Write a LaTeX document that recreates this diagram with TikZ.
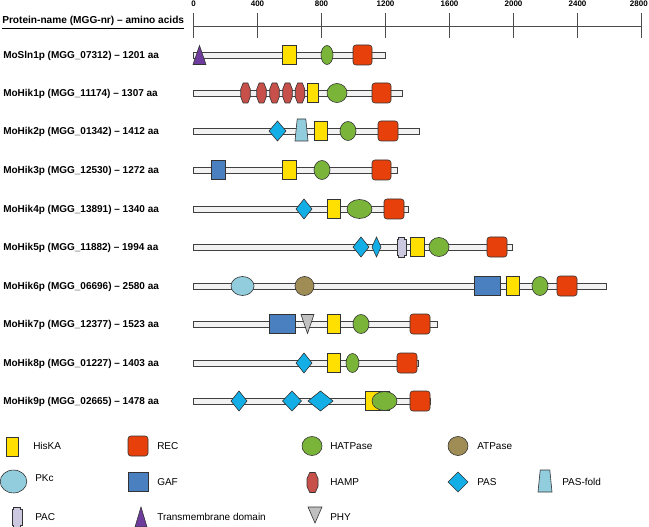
\documentclass[tikz,border=0pt]{standalone}
\usepackage{fontspec}
\setmainfont{Liberation Sans}
\definecolor{hiskac}{HTML}{FFE000}
\definecolor{recc}{HTML}{E8400A}
\definecolor{hatc}{HTML}{7AB53A}
\definecolor{atpc}{HTML}{A08C55}
\definecolor{pkcc}{HTML}{92CDDD}
\definecolor{gafc}{HTML}{4A80C0}
\definecolor{hampc}{HTML}{C8504A}
\definecolor{pasc}{HTML}{14AEE6}
\definecolor{pacc}{HTML}{CCC8E0}
\definecolor{tmc}{HTML}{6E3C9C}
\definecolor{phyc}{HTML}{C0C0C0}
\definecolor{barc}{HTML}{F2F2F2}
\tikzset{
  dom/.style={draw=black!80, line width=0.45pt},
  hiskas/.style={dom, fill=hiskac},
  recs/.style={dom, fill=recc, rounded corners=2.2pt},
  hats/.style={dom, fill=hatc},
  atps/.style={dom, fill=atpc},
  pkcs/.style={dom, fill=pkcc},
  gafs/.style={dom, fill=gafc},
  hamps/.style={dom, fill=hampc},
  pass/.style={dom, fill=pasc},
  pasfs/.style={dom, fill=pkcc},
  pacs/.style={dom, fill=pacc},
  tms/.style={dom, fill=tmc},
  phys/.style={dom, fill=phyc},
  barstyle/.style={draw=black!75, line width=0.5pt, fill=barc},
  rowlab/.style={anchor=base west, inner sep=0pt, font=\bfseries\fontsize{7.5}{9}\selectfont},
  ticklab/.style={inner sep=0pt, font=\bfseries\fontsize{6}{7}\selectfont},
  leglab/.style={anchor=base west, inner sep=0pt, font=\fontsize{7.5}{9}\selectfont},
  axisline/.style={draw=black!70, line width=0.6pt}
}
% domain drawing commands: style, x1, x2, y
\newcommand{\dRect}[4]{\draw[#1] (#2,#4-9.5) rectangle (#3,#4+9.5);}
\newcommand{\dRec}[3]{\draw[recs] (#1,#3-10) rectangle (#2,#3+10);}
\newcommand{\dEll}[4]{\draw[#1] ({(#2+#3)/2},#4) ellipse [x radius={0.375pt*(#3-#2)}, y radius=7.125pt];}
% diamond: cx, w, y
\newcommand{\dDia}[3]{\draw[pass] ({#1-#2/2},#3) -- (#1,#3-10) -- ({#1+#2/2},#3) -- (#1,#3+10) -- cycle;}
% HAMP: cx, w, y
\newcommand{\dHamp}[3]{\draw[hamps] ({#1-#2/4},#3-10) -- ({#1+#2/4},#3-10) -- ({#1+#2/2},#3-4) -- ({#1+#2/2},#3+4) -- ({#1+#2/4},#3+10) -- ({#1-#2/4},#3+10) -- ({#1-#2/2},#3+4) -- ({#1-#2/2},#3-4) -- cycle;}
% PAS-fold: x1, x2, y
\newcommand{\dPasf}[3]{\draw[pasfs] ({#1+2.2},#3-12) -- ({#2-2.2},#3-12) -- (#2,#3+10) -- (#1,#3+10) -- cycle;}
% PAC: x1, x2, y
\newcommand{\dPac}[3]{\draw[pacs] ({#1+1.6},#3-10) -- ({#2-1.6},#3-10) -- ({#2-1.6},#3-8) -- (#2,#3-8) -- (#2,#3+8) -- ({#2-1.6},#3+8) -- ({#2-1.6},#3+10) -- ({#1+1.6},#3+10) -- ({#1+1.6},#3+8) -- (#1,#3+8) -- (#1,#3-8) -- ({#1+1.6},#3-8) -- cycle;}
% TM triangle: x1, x2, y
\newcommand{\dTm}[3]{\draw[tms] (#1,#3+9.5) -- ({(#1+#2)/2},#3-9.5) -- (#2,#3+9.5) -- cycle;}
% PHY inverted triangle: x1, x2, y
\newcommand{\dPhy}[3]{\draw[phys] (#1,#3-9.5) -- (#2,#3-9.5) -- ({(#1+#2)/2},#3+9.5) -- cycle;}
% bar: end, y
\newcommand{\dBar}[2]{\draw[barstyle] (193.5,#2-3) rectangle (#1,#2+3);}
\begin{document}
\begin{tikzpicture}[x=0.75pt, y=-0.75pt]
\useasboundingbox (0,0) rectangle (649,527);
% header
\node[anchor=base west, inner sep=0pt, font=\bfseries\fontsize{7.6}{9}\selectfont] (hdr) at (2,24) {\underline{Protein-name (MGG-nr) – amino acids}};
\coordinate (axs) at (193.5,26);
\coordinate (axe) at (641.5,26);
\draw[axisline] (axs) -- (axe);
\foreach \v [count=\i from 0] in {0,400,800,1200,1600,2000,2400,2800} {
  \draw[axisline] ({193.5+0.16*\v},13) -- ({193.5+0.16*\v},38);
}
\foreach \v [count=\i from 0] in {0,400,800,1200,1600,2000,2400} {
  \node[ticklab] (t\i) at ({193.5+0.16*\v},4) {\v};
}
\node[ticklab, anchor=east] (t7) at (648,4) {2800};
% row labels
\node[rowlab] (l1) at (3,58.5) {MoSln1p (MGG\_07312) – 1201 aa};
\node[rowlab] (l2) at (3,96.5) {MoHik1p (MGG\_11174) – 1307 aa};
\node[rowlab] (l3) at (3,134.5) {MoHik2p (MGG\_01342) – 1412 aa};
\node[rowlab] (l4) at (3,173.5) {MoHik3p (MGG\_12530) – 1272 aa};
\node[rowlab] (l5) at (3,212.5) {MoHik4p (MGG\_13891) – 1340 aa};
\node[rowlab] (l6) at (3,250.5) {MoHik5p (MGG\_11882) – 1994 aa};
\node[rowlab] (l7) at (3,289.5) {MoHik6p (MGG\_06696) – 2580 aa};
\node[rowlab] (l8) at (3,327.5) {MoHik7p (MGG\_12377) – 1523 aa};
\node[rowlab] (l9) at (3,366.5) {MoHik8p (MGG\_01227) – 1403 aa};
\node[rowlab] (l10) at (3,404.5) {MoHik9p (MGG\_02665) – 1478 aa};
% row 1
\dBar{385.7}{55}
\dTm{193}{206}{55}
\dRect{hiskas}{282}{296}{55}
\dEll{hats}{321}{333}{55}
\dRec{353}{372}{55}
% row 2
\dBar{402.6}{93}
\dHamp{245.5}{9.5}{93}
\dHamp{261.5}{9.5}{93}
\dHamp{274.5}{9.5}{93}
\dHamp{287.5}{9.5}{93}
\dHamp{300}{9.5}{93}
\dRect{hiskas}{307}{318}{93}
\dEll{hats}{327}{347}{93}
\dRec{372}{391}{93}
% row 3
\dBar{419.4}{131}
\dDia{277.5}{17}{131}
\dPasf{295}{308}{131}
\dRect{hiskas}{314}{327}{131}
\dEll{hats}{340}{356}{131}
\dRec{378}{398}{131}
% row 4
\dBar{397}{170}
\dRect{gafs}{211}{225}{170}
\dRect{hiskas}{282}{296}{170}
\dEll{hats}{314}{330}{170}
\dRec{372}{391}{170}
% row 5
\dBar{408}{209}
\dDia{304}{16}{209}
\dRect{hiskas}{327}{340}{209}
\dEll{hats}{347}{372}{209}
\dRec{384}{404}{209}
% row 6
\dBar{512.5}{247}
\dDia{361}{16}{247}
\dDia{376.5}{9}{247}
\dPac{397}{406}{247}
\dRect{hiskas}{410}{424}{247}
\dEll{hats}{429}{449}{247}
\dRec{487}{507}{247}
% row 7
\dBar{606.3}{286}
\dEll{pkcs}{231}{254}{286}
\dEll{atps}{295}{314}{286}
\dRect{gafs}{474}{500}{286}
\dRect{hiskas}{506}{519}{286}
\dEll{hats}{532}{548}{286}
\dRec{557}{577}{286}
% row 8
\dBar{437.2}{324}
\dRect{gafs}{269}{295}{324}
\dPhy{301}{314}{324}
\dRect{hiskas}{327}{340}{324}
\dEll{hats}{353}{369}{324}
\dRec{410}{430}{324}
% row 9
\dBar{418}{363}
\dDia{304}{16}{363}
\dRect{hiskas}{327}{340}{363}
\dEll{hats}{346}{359}{363}
\dRec{397}{417}{363}
% row 10
\dBar{430}{401}
\dDia{239}{16}{401}
\dDia{292}{19}{401}
\dDia{320.5}{25}{401}
\dRect{hiskas}{365}{389}{401}
\dEll{hats}{372}{397}{401}
\dRec{410}{430}{401}
% legend row 1
\dRect{hiskas}{6}{18}{446.5}
\node[leglab] (g1) at (33,449.5) {HisKA};
\dRec{128}{148}{446}
\node[leglab] (g2) at (157,449.5) {REC};
\dEll{hats}{302}{322}{446}
\node[leglab] (g3) at (330,449.5) {HATPase};
\dEll{atps}{448}{468}{446}
\node[leglab] (g4) at (477,449.5) {ATPase};
% legend row 2
\draw[pkcs] (13.5,481.5) ellipse [x radius=10pt, y radius=8.6pt];
\node[leglab] (g5) at (35,481.5) {PKc};
\dRect{gafs}{128}{148}{482}
\node[leglab] (g6) at (157,485.5) {GAF};
\dHamp{312.5}{11}{482.5}
\node[leglab] (g7) at (330,485.5) {HAMP};
\dDia{458}{20}{482}
\node[leglab] (g8) at (477,485.5) {PAS};
\dPasf{538}{552}{482}
\node[leglab] (g9) at (562,485.5) {PAS-fold};
% legend row 3
\dPac{12}{22}{517}
\node[leglab] (g10) at (35,520.5) {PAC};
\draw[tms] (135,527) -- (141,507) -- (147,527) -- cycle;
\node[leglab] (g11) at (157,520.5) {Transmembrane domain};
\draw[phys] (308,507) -- (322,507) -- (315,523) -- cycle;
\node[leglab] (g12) at (330,520.5) {PHY};
\end{tikzpicture}
\end{document}
